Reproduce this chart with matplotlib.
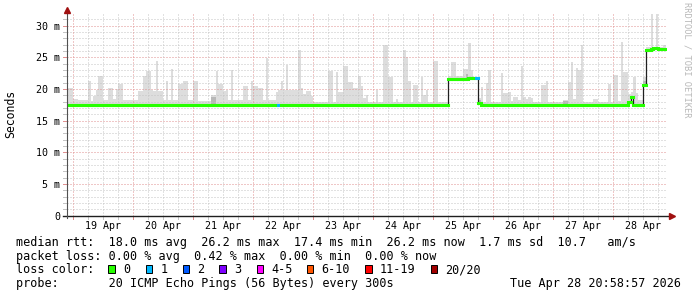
import matplotlib
matplotlib.use('Agg')
import matplotlib.pyplot as plt
import matplotlib.transforms as mtransforms
from matplotlib.patches import Rectangle
import numpy as np

plt.rcParams['font.family'] = ['DejaVu Sans Mono']

W, H, DPI = 697, 297, 100

# ---------------- data (hourly bins, hour 0 = 19 Apr 00:00) ----------------
first_hour = -3  # 18 Apr 21:00

smoke_apr18 = [18.3, 20.1, 20.1]
smoke_apr19 = [18.4, 18.4, 18.2, 18.2, 18.2, 18.2, 21.2, 18.1, 18.9, 19.9, 22.0, 22.0,
               18.2, 18.2, 20.1, 20.1, 18.4, 20.0, 20.8, 20.8, 18.2, 18.2, 18.2, 18.2]
smoke_apr20 = [18.2, 18.2, 19.7, 19.7, 22.0, 22.8, 22.8, 19.8, 19.7, 24.4, 19.7, 19.7,
               18.3, 21.2, 18.2, 23.1, 18.2, 18.2, 20.8, 20.8, 21.2, 21.2, 18.2, 18.2]
smoke_apr21 = [21.3, 21.3, 18.1, 18.1, 18.1, 18.1, 18.1, 19.0, 19.0, 22.8, 20.8, 20.8,
               19.7, 19.8, 18.2, 23.0, 18.2, 18.2, 18.2, 18.2, 20.5, 20.5, 18.2, 21.2]
smoke_apr22 = [20.5, 20.5, 20.1, 20.1, 18.2, 24.9, 18.3, 18.3, 18.3, 19.6, 19.9, 21.2,
               19.9, 23.8, 19.9, 19.9, 19.9, 19.9, 26.1, 20.1, 19.2, 19.7, 19.7, 18.9]
smoke_apr23 = [18.0, 18.0, 17.9, 17.9, 17.9, 17.9, 22.8, 22.8, 18.0, 22.7, 19.6, 19.6,
               23.7, 23.7, 21.1, 21.1, 20.1, 20.1, 22.0, 20.5, 18.6, 19.0, 18.0, 18.0]
smoke_apr24 = [18.0, 19.9, 18.0, 18.0, 26.9, 26.9, 21.9, 21.9, 18.0, 18.4, 18.0, 18.0,
               26.1, 25.0, 21.3, 18.0, 20.6, 20.6, 18.0, 21.9, 19.0, 19.9, 18.0, 18.0]
smoke_apr25 = [24.4, 24.4, 18.0, 18.0, 18.0, 18.0, 22.0, 24.2, 24.2, 22.0, 22.0, 22.1,
               23.2, 23.1, 27.2, 23.0, 21.9, 21.9, 18.5, 20.3, 18.0, 21.0, 23.0, 18.0]
smoke_apr26 = [18.0, 18.0, 18.0, 22.6, 19.4, 19.4, 19.6, 18.1, 18.7, 18.7, 18.2, 23.6,
               18.8, 18.4, 18.7, 18.6, 18.0, 18.0, 18.0, 20.6, 20.6, 21.2, 18.0, 18.0]
smoke_apr27 = [18.0, 18.0, 18.0, 18.0, 18.3, 18.3, 21.1, 24.3, 18.4, 23.3, 23.0, 26.9,
               18.0, 18.0, 18.0, 18.0, 18.4, 18.4, 18.0, 18.0, 18.0, 18.0, 20.8, 18.0]
smoke_apr28 = [22.2, 22.2, 18.1, 27.4, 22.7, 22.7, 19.2, 19.6, 21.9, 19.4, 18.2, 18.2,
               21.9, 26.6, 26.6, 31.8, 26.6, 31.8, 26.6, 26.6, 27.0]

median_apr18 = [17.5, 17.5, 17.5]
median_apr19 = [17.5, 17.5, 17.5, 17.5, 17.5, 17.5, 17.5, 17.5, 17.5, 17.5, 17.5, 17.5,
                17.5, 17.5, 17.5, 17.5, 17.5, 17.5, 17.5, 17.5, 17.5, 17.5, 17.5, 17.5]
median_apr20 = [17.5, 17.5, 17.5, 17.5, 17.5, 17.5, 17.5, 17.5, 17.5, 17.5, 17.5, 17.5,
                17.5, 17.5, 17.5, 17.5, 17.5, 17.5, 17.5, 17.5, 17.5, 17.5, 17.5, 17.5]
median_apr21 = [17.5, 17.5, 17.5, 17.5, 17.5, 17.5, 17.5, 17.5, 17.5, 17.5, 17.5, 17.5,
                17.5, 17.5, 17.5, 17.5, 17.5, 17.5, 17.5, 17.5, 17.5, 17.5, 17.5, 17.5]
median_apr22 = [17.5, 17.5, 17.5, 17.5, 17.5, 17.5, 17.5, 17.5, 17.5, 17.5, 17.5, 17.5,
                17.5, 17.5, 17.5, 17.5, 17.5, 17.5, 17.5, 17.5, 17.5, 17.5, 17.5, 17.5]
median_apr23 = [17.5, 17.5, 17.5, 17.5, 17.5, 17.5, 17.5, 17.5, 17.5, 17.5, 17.5, 17.5,
                17.5, 17.5, 17.5, 17.5, 17.5, 17.5, 17.5, 17.5, 17.5, 17.5, 17.5, 17.5]
median_apr24 = [17.5, 17.5, 17.5, 17.5, 17.5, 17.5, 17.5, 17.5, 17.5, 17.5, 17.5, 17.5,
                17.5, 17.5, 17.5, 17.5, 17.5, 17.5, 17.5, 17.5, 17.5, 17.5, 17.5, 17.5]
median_apr25 = [17.5, 17.5, 17.5, 17.5, 17.5, 17.5, 21.6, 21.6, 21.6, 21.6, 21.6, 21.6,
                21.6, 21.6, 21.7, 21.7, 21.7, 21.7, 17.8, 17.5, 17.5, 17.5, 17.5, 17.5]
median_apr26 = [17.5, 17.5, 17.5, 17.5, 17.5, 17.5, 17.5, 17.5, 17.5, 17.5, 17.5, 17.5,
                17.5, 17.5, 17.5, 17.5, 17.5, 17.5, 17.5, 17.5, 17.5, 17.5, 17.5, 17.5]
median_apr27 = [17.5, 17.5, 17.5, 17.5, 17.5, 17.5, 17.5, 17.5, 17.5, 17.5, 17.5, 17.5,
                17.5, 17.5, 17.5, 17.5, 17.5, 17.5, 17.5, 17.5, 17.5, 17.5, 17.5, 17.5]
median_apr28 = [17.5, 17.5, 17.5, 17.5, 17.5, 17.5, 18.0, 18.7, 17.5, 17.5, 17.5, 17.5,
                20.6, 26.2, 26.2, 26.3, 26.4, 26.4, 26.3, 26.3, 26.3]

# bins that lost one ping (loss class "1")
loss1_hours = [82, 161]
# darker smoke (dense pings) near the median
dark_hours = [55, 56, 157, 162, 196, 197, 228]
dark_tops = [18.8, 18.8, 22.4, 18.2, 18.1, 18.1, 21.3]

day_labels = ['19 Apr', '20 Apr', '21 Apr', '22 Apr', '23 Apr',
              '24 Apr', '25 Apr', '26 Apr', '27 Apr', '28 Apr']
ytick_values = [0, 5, 10, 15, 20, 25, 30]
ytick_labels = ['0', '5 m', '10 m', '15 m', '20 m', '25 m', '30 m']

loss_labels = ['0', '1', '2', '3', '4-5', '6-10', '11-19', '20/20']
loss_colors = ['#26ff00', '#00b8ff', '#0059ff', '#7e00ff', '#ff00ff', '#ff5500', '#ff0000', '#a10000']

legend_rtt = 'median rtt:  18.0 ms avg  26.2 ms max  17.4 ms min  26.2 ms now  1.7 ms sd  10.7   am/s'
legend_loss = 'packet loss: 0.00 % avg  0.42 % max  0.00 % min  0.00 % now'
legend_probe = 'probe:       20 ICMP Echo Pings (56 Bytes) every 300s'
stamp = 'Tue Apr 28 20:58:57 2026'

# ---------------- assemble ----------------
smoke_top = np.array(smoke_apr18 + smoke_apr19 + smoke_apr20 + smoke_apr21 + smoke_apr22 +
                     smoke_apr23 + smoke_apr24 + smoke_apr25 + smoke_apr26 + smoke_apr27 +
                     smoke_apr28)
median = np.array(median_apr18 + median_apr19 + median_apr20 + median_apr21 + median_apr22 +
                  median_apr23 + median_apr24 + median_apr25 + median_apr26 + median_apr27 +
                  median_apr28)
hours = np.arange(first_hour, first_hour + len(median))
edges = np.append(hours, hours[-1] + 1)
med_ext = np.append(median, median[-1])
top_ext = np.append(smoke_top, smoke_top[-1])

GRID = '#c4c4c4'
MGRID = '#e09090'
ARROW = '#a01010'

fig = plt.figure(figsize=(W / DPI, H / DPI), dpi=DPI)
fig.patch.set_facecolor('white')

ax_l, ax_r, ax_t, ax_b = 67, 667, 13.6, 215.7
ax = fig.add_axes([ax_l / W, 1 - ax_b / H, (ax_r - ax_l) / W, (ax_b - ax_t) / H])
ax.set_facecolor('white')
ax.set_xlim(-2.52, 237.48)
ax.set_ylim(0, 31.9)
for s in ax.spines.values():
    s.set_visible(False)

# grid
tx = mtransforms.blended_transform_factory(ax.transData, ax.transAxes)
ty = mtransforms.blended_transform_factory(ax.transAxes, ax.transData)
for v in range(1, 32):
    c = MGRID if v % 5 == 0 else GRID
    ax.axhline(v, color=c, lw=0.72, ls=(0, (1, 2)), zorder=2)
    ax.plot([-0.006, -0.001], [v, v], transform=ty, color=c, lw=0.72, clip_on=False, zorder=2)
for hh in range(0, 238, 6):
    c = MGRID if hh % 24 == 0 else GRID
    ax.axvline(hh, color=c, lw=0.72, ls=(0, (1, 2)), zorder=2)
    ax.plot([hh, hh], [-0.014, -0.003], transform=tx, color=c, lw=0.72, clip_on=False, zorder=2)

# smoke
ax.fill_between(edges, med_ext, top_ext, step='post', color='#dddddd', linewidth=0, zorder=1)
dark_idx = [list(hours).index(h) for h in dark_hours]
ax.bar(dark_hours, np.array(dark_tops) - median[dark_idx], bottom=median[dark_idx],
       width=1.0, align='edge', color='#b8b8b8', linewidth=0, zorder=1.5)

# median line: thin dark step + loss-coloured horizontal segments
ax.step(edges, med_ext, where='post', color='#202020', lw=0.9, zorder=3)
seg_colors = [loss_colors[1] if h in loss1_hours else loss_colors[0] for h in hours]
ax.hlines(median, hours, hours + 1, colors=seg_colors, lw=2.2, zorder=4,
          capstyle='projecting')

# axes + arrows
ax.plot([-0.0067, 1.0033], [0, 0], transform=ax.transAxes, color='#1f1f1f', lw=1.0,
        clip_on=False, zorder=6)
ax.plot([0, 0], [-0.012, 1.0], transform=ax.transAxes, color='#505050', lw=0.8,
        clip_on=False, zorder=6)
ax.plot([1.0075], [0], marker='>', ms=4, color=ARROW, mec=ARROW, transform=ax.transAxes,
        clip_on=False, zorder=7)
ax.plot([0], [1.016], marker='^', ms=4, color=ARROW, mec=ARROW, transform=ax.transAxes,
        clip_on=False, zorder=7)

# ticks
ax.set_xticks([12 + 24 * i for i in range(len(day_labels))])
ax.set_xticklabels(day_labels, fontsize=7.2)
ax.tick_params(axis='x', length=0, pad=3.6)
ax.set_yticks(ytick_values)
ax.set_yticklabels(ytick_labels, fontsize=7.2)
ax.tick_params(axis='y', length=0, pad=4.7)

# labels / legend
fig.text(11 / W, 1 - 113.6 / H, 'Seconds', rotation=90, ha='center', va='center', fontsize=8.3)
fig.text(687 / W, 1 - 60 / H, 'RRDTOOL / TOBI OETIKER', rotation=270, ha='center',
         va='center', fontsize=6.3, color='#b8b8b8')

LX = 16
fs = 8.45
fig.text(LX / W, 1 - 245.9 / H, legend_rtt, fontsize=fs, va='baseline')
fig.text(LX / W, 1 - 259.6 / H, legend_loss, fontsize=fs, va='baseline')
fig.text(LX / W, 1 - 273.4 / H, 'loss color:', fontsize=fs, va='baseline')
fig.text(LX / W, 1 - 287.3 / H, legend_probe, fontsize=fs, va='baseline')
fig.text(681 / W, 1 - 287.3 / H, stamp, fontsize=fs, va='baseline', ha='right')

box_x = [108.3, 145.7, 182.7, 219.3, 256.7, 306.7, 365.0, 430.7]
for bx, lab, col in zip(box_x, loss_labels, loss_colors):
    fig.add_artist(Rectangle((bx / W, 1 - 273.3 / H), 6.7 / W, 8.3 / H,
                             transform=fig.transFigure, facecolor=col,
                             edgecolor='black', lw=0.7))
    fig.text((bx + 14.6) / W, 1 - 273.4 / H, lab, fontsize=fs, va='baseline')

fig.savefig('out.png', dpi=DPI, facecolor='white')
